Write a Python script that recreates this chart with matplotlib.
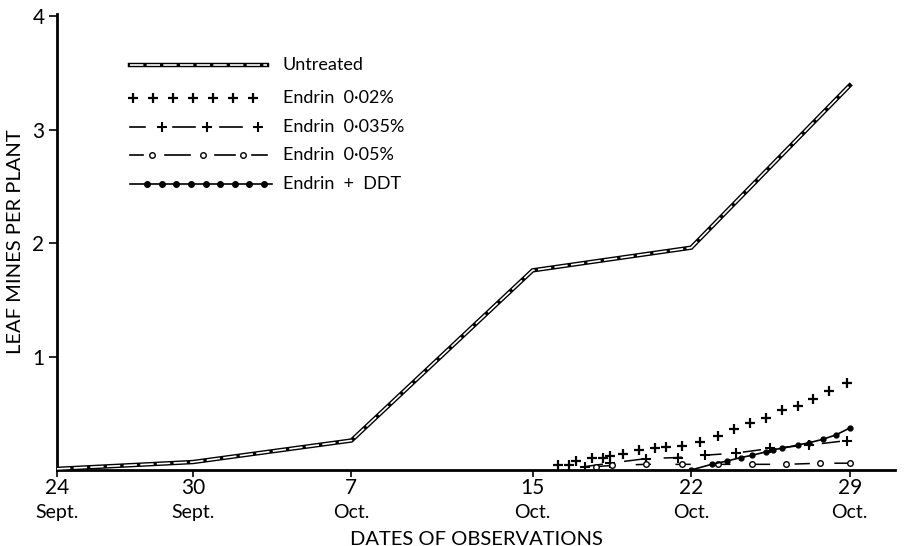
import matplotlib.pyplot as plt
import numpy as np

plt.rcParams['font.family'] = ['Lato', 'DejaVu Sans']

# x in days after 24 Sept
tick_days = [0, 6, 13, 21, 28, 35]
day_labels = ['24', '30', '7', '15', '22', '29']
month_labels = ['Sept.', 'Sept.', 'Oct.', 'Oct.', 'Oct.', 'Oct.']

untreated = [0.01, 0.07, 0.26, 1.76, 1.96, 3.39]

e002_days = [22.1, 22.6, 22.9, 23.6, 24.1, 24.4, 25.0, 25.7, 26.4, 26.9, 27.6,
             28.4, 29.2, 29.9, 30.6, 31.3, 32.0, 32.7, 33.4, 34.1, 34.9]
e002_vals = [0.04, 0.04, 0.08, 0.11, 0.11, 0.12, 0.14, 0.18, 0.19, 0.20, 0.21,
             0.25, 0.30, 0.36, 0.41, 0.46, 0.53, 0.56, 0.63, 0.70, 0.77]

e0035_days = [23.3, 24.4, 26.0, 27.4, 28.6, 30.0, 31.5, 33.2, 34.9]
e0035_vals = [0.03, 0.06, 0.10, 0.11, 0.13, 0.15, 0.19, 0.22, 0.26]

e005_days = [23.8, 24.5, 26.0, 27.6, 29.2, 30.7, 32.2, 33.7, 35.0]
e005_vals = [0.03, 0.04, 0.05, 0.05, 0.05, 0.05, 0.05, 0.06, 0.06]

ddt_days = [28.0, 28.9, 29.6, 30.2, 30.7, 31.3, 31.6, 32.0, 32.7, 33.2, 33.8, 34.4, 35.0]
ddt_vals = [0.0, 0.05, 0.08, 0.11, 0.13, 0.16, 0.18, 0.19, 0.22, 0.24, 0.27, 0.31, 0.37]

legend_labels = ['Untreated', 'Endrin  0·02%', 'Endrin  0·035%', 'Endrin  0·05%',
                 'Endrin  +  DDT']

fig = plt.figure(figsize=(9.06, 5.46), dpi=100)
ax = fig.add_axes([57 / 906, 76 / 546, 838 / 906, 456 / 546])

dash_plus = (0, (12, 14))
dash_circ = (0, (10, 16))

# Untreated: black band with white core
ax.plot(tick_days, untreated, color='black', lw=3.2, solid_joinstyle='miter', zorder=3)
ax.plot(tick_days, untreated, color='white', lw=1.2, ls=(0, (8, 2)), zorder=4)

ax.plot(e002_days, e002_vals, ls='none', marker='+', ms=7, mew=1.6, color='black')
ax.plot(e0035_days, e0035_vals, ls=dash_plus, lw=1.1, marker='+', ms=7, mew=1.5,
        color='black')
ax.plot(e005_days, e005_vals, ls=dash_circ, lw=1.1, marker='o', ms=4, mew=1,
        mfc='white', color='black')
ax.plot(ddt_days, ddt_vals, ls='-', lw=1.2, marker='o', ms=3.5, color='black')

ax.set_xlim(0, 37.0)
ax.set_ylim(0, 4.02)
ax.set_xticks(tick_days)
ax.set_xticklabels(day_labels, fontsize=15)
ax.tick_params(axis='x', direction='out', length=5, width=1.2, pad=1)
for d, m in zip(tick_days, month_labels):
    ax.text(d, -0.094, m, transform=ax.get_xaxis_transform(), fontsize=14,
            ha='center', va='center')
ax.set_yticks([1, 2, 3, 4])
ax.set_yticklabels(['1', '2', '3', '4'], fontsize=15)
ax.tick_params(axis='y', direction='out', length=6, width=1.2, pad=3)
for s in ['top', 'right']:
    ax.spines[s].set_visible(False)
for s in ['left', 'bottom']:
    ax.spines[s].set_linewidth(2)

ax.set_ylabel('LEAF MINES PER PLANT', fontsize=14.5, labelpad=6)
ax.set_xlabel('DATES OF OBSERVATIONS', fontsize=14.5)
ax.xaxis.set_label_coords(0.5, -0.133)


# legend key, placed in pixel terms of the axes box
def fx(px):
    return (px - 57) / 838


def fy(py):
    return (470 - py) / 456


tr = ax.transAxes
rows = [65, 98, 127, 155, 184]
x0, x1 = fx(130), fx(267)

y = fy(rows[0])
ax.plot([x0, x1], [y, y], transform=tr, color='black', lw=3.2, clip_on=False)
ax.plot([x0, x1], [y, y], transform=tr, color='white', lw=1.2, ls=(0, (8, 2)), clip_on=False)

y = fy(rows[1])
ax.plot(np.linspace(fx(133), fx(253), 7), [y] * 7, transform=tr, ls='none', marker='+',
        ms=7, mew=1.6, color='black', clip_on=False)

y = fy(rows[2])
for a, b in [(130, 145), (173, 195), (220, 242)]:
    ax.plot([fx(a), fx(b)], [y, y], transform=tr, lw=1.2, color='black', clip_on=False)
ax.plot([fx(162), fx(207), fx(258)], [y] * 3, transform=tr, ls='none', marker='+',
        ms=7, mew=1.5, color='black', clip_on=False)

y = fy(rows[3])
for a, b in [(130, 143), (165, 190), (215, 235), (252, 267)]:
    ax.plot([fx(a), fx(b)], [y, y], transform=tr, lw=1.2, color='black', clip_on=False)
ax.plot([fx(152), fx(203), fx(243)], [y] * 3, transform=tr, ls='none', marker='o',
        ms=4, mew=1, mfc='white', color='black', clip_on=False)

y = fy(rows[4])
ax.plot([x0, fx(272)], [y, y], transform=tr, ls='-', lw=1.2, color='black', clip_on=False)
ax.plot(np.linspace(fx(147), fx(264), 9), [y] * 9, transform=tr, ls='none', marker='o',
        ms=4, color='black', clip_on=False)

for lab, r in zip(legend_labels, rows):
    ax.text(fx(283), fy(r), lab, transform=tr, fontsize=13, va='center', ha='left')

fig.savefig('out.png', dpi=100)
